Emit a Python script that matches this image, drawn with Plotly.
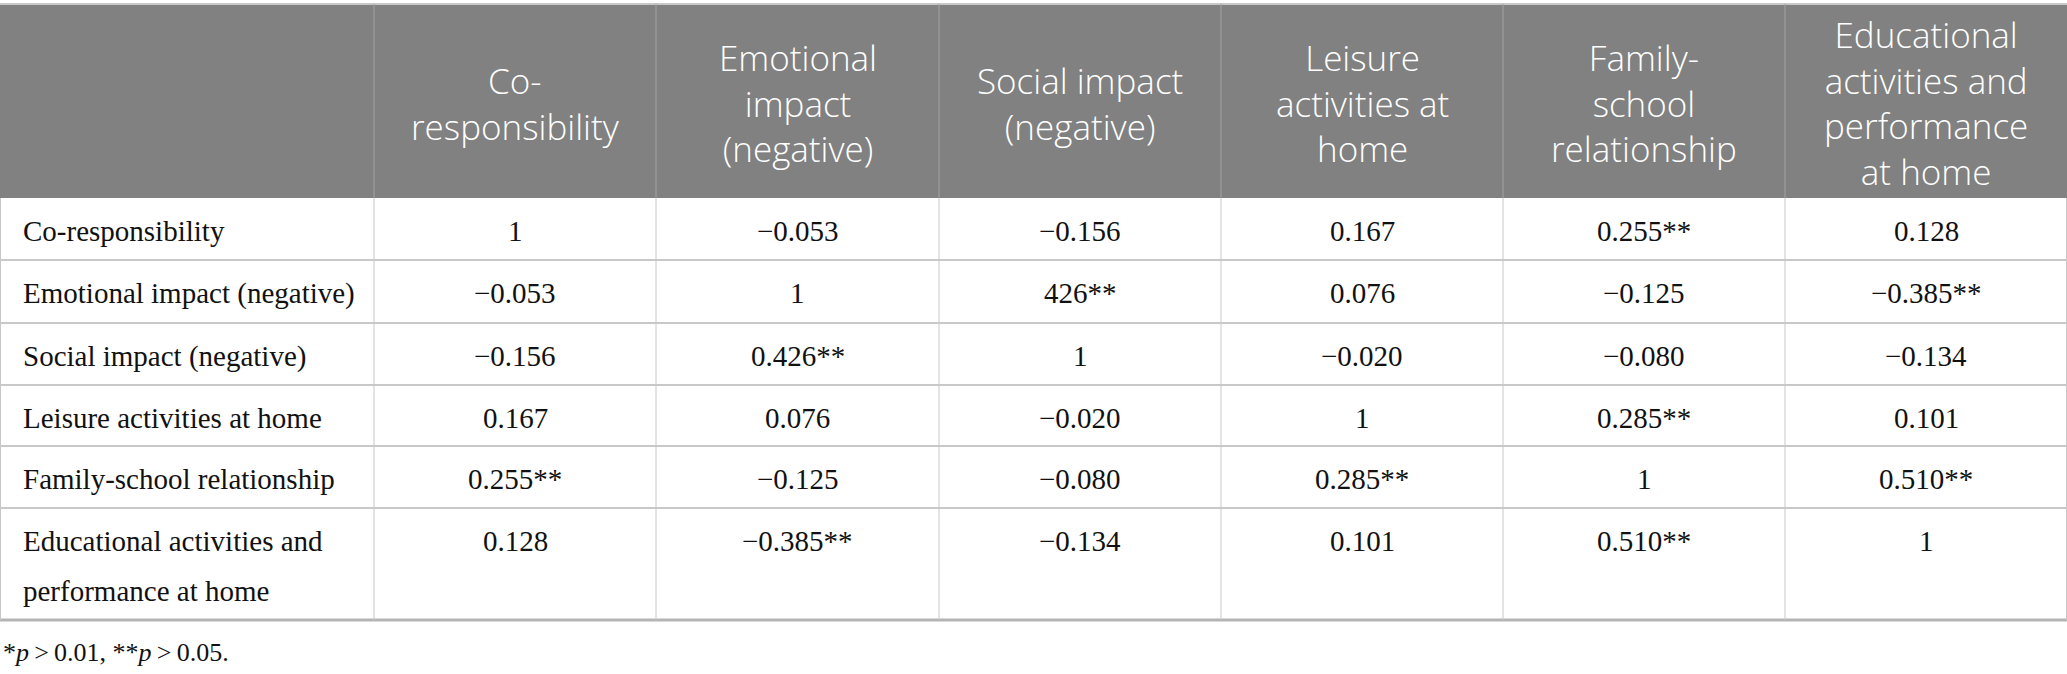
import plotly.graph_objects as go

# header text per column (as broken in the source table)
header_lines = [
    ["Co-", "responsibility"],
    ["Emotional", "impact", "(negative)"],
    ["Social impact", "(negative)"],
    ["Leisure", "activities at", "home"],
    ["Family-", "school", "relationship"],
    ["Educational", "activities and", "performance", "at home"],
]

row_labels = [
    "Co-responsibility",
    "Emotional impact (negative)",
    "Social impact (negative)",
    "Leisure activities at home",
    "Family-school relationship",
    "Educational activities and<br>performance at home",
]

col_co_resp = ["1", "−0.053", "−0.156", "0.167", "0.255**", "0.128"]
col_emotional = ["−0.053", "1", "0.426**", "0.076", "−0.125", "−0.385**"]
col_social = ["−0.156", "426**", "1", "−0.020", "−0.080", "−0.134"]
col_leisure = ["0.167", "0.076", "−0.020", "1", "0.285**", "0.101"]
col_family = ["0.255**", "−0.125", "−0.080", "0.285**", "1", "0.510**"]
col_educ = ["0.128", "−0.385**", "−0.134", "0.101", "0.510**", "1"]
value_cols = [col_co_resp, col_emotional, col_social, col_leisure, col_family, col_educ]

footnote = "*<i>p</i>\u2009>\u20090.01, **<i>p</i>\u2009>\u20090.05."

# layout geometry (pixels)
W, H = 2067, 674
col_edges = [0, 374, 656, 939, 1221, 1503, 1785, 2067]
row_edges = [198, 260, 323, 385, 446, 508, 620]
head_top, head_bot = 4, 198

HEAD_BG = "#808180"
GRID = "#c8c8c8"

fig = go.Figure()
shapes = []
ann = []

# header block
shapes.append(dict(type="rect", x0=0, x1=W, y0=head_top, y1=head_bot,
                   fillcolor=HEAD_BG, line=dict(width=0), layer="below"))
shapes.append(dict(type="line", x0=0, x1=W, y0=head_top, y1=head_top,
                   line=dict(color=GRID, width=2)))
for x in col_edges[1:-1]:
    shapes.append(dict(type="line", x0=x, x1=x, y0=head_top, y1=head_bot,
                       line=dict(color="#a3a3a3", width=1)))

# body grid
for y in row_edges[1:-1]:
    shapes.append(dict(type="line", x0=0, x1=W, y0=y, y1=y,
                       line=dict(color=GRID, width=2)))
shapes.append(dict(type="line", x0=0, x1=W, y0=row_edges[-1], y1=row_edges[-1],
                   line=dict(color="#b4b4b4", width=3)))
for x in col_edges:
    xx = min(max(x, 0.5), W - 0.5)
    shapes.append(dict(type="line", x0=xx, x1=xx, y0=head_bot, y1=row_edges[-1],
                       line=dict(color=GRID, width=1)))

# header text
for j, lines in enumerate(header_lines):
    cx = (col_edges[j + 1] + col_edges[j + 2]) / 2
    ann.append(dict(x=cx, y=(head_top + head_bot) / 2 + 2, text="<br>".join(lines),
                    showarrow=False, xanchor="center", yanchor="middle", align="center",
                    font=dict(family="Open Sans", size=35, color="white", weight=300)))

body_font = dict(family="Liberation Serif", size=29, color="#111111")

# row labels + values
for i, lab in enumerate(row_labels):
    top = row_edges[i]
    for k, t in enumerate(lab.split("<br>")):
        ann.append(dict(x=21, y=top + 33 + k * 50, text=t, showarrow=False,
                        xanchor="left", yanchor="middle", font=body_font))
    for j, col in enumerate(value_cols):
        cx = (col_edges[j + 1] + col_edges[j + 2]) / 2
        ann.append(dict(x=cx, y=top + 33, text=col[i], showarrow=False,
                        xanchor="center", yanchor="middle", font=body_font))

ann.append(dict(x=1, y=652, text=footnote, showarrow=False, xanchor="left",
                yanchor="middle",
                font=dict(family="Liberation Serif", size=26, color="#111111")))

fig.update_layout(
    width=W, height=H, autosize=False,
    margin=dict(l=0, r=0, t=0, b=0),
    paper_bgcolor="white", plot_bgcolor="white",
    xaxis=dict(range=[0, W], visible=False, fixedrange=True),
    yaxis=dict(range=[H, 0], visible=False, fixedrange=True),
    shapes=shapes, annotations=ann, showlegend=False,
)

fig.write_html("out.html", config={"displayModeBar": False},
               post_script="document.body.style.margin='0';")
